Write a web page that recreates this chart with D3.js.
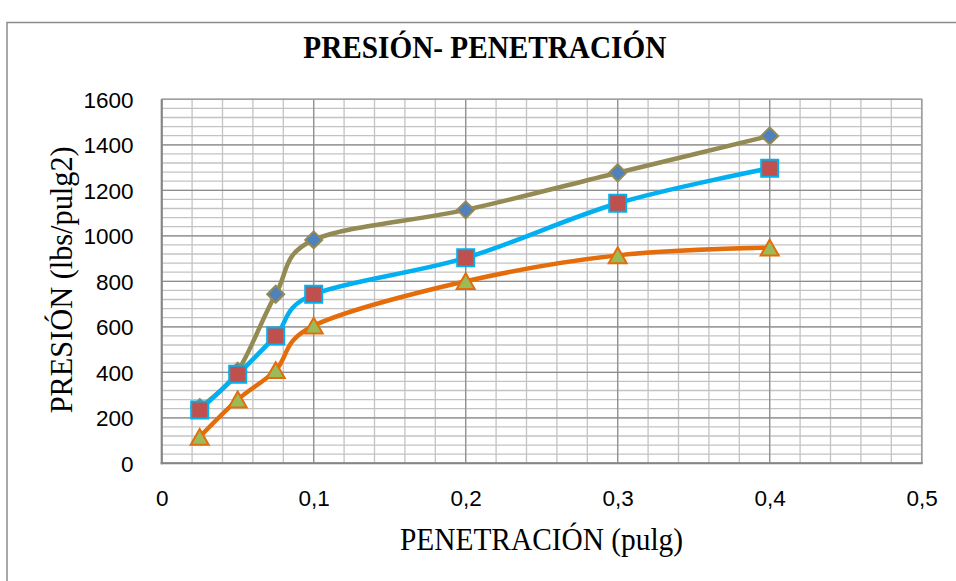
<!DOCTYPE html>
<html>
<head>
<meta charset="utf-8">
<script src="https://cdn.jsdelivr.net/npm/d3@7"></script>
<style>
  html, body { margin: 0; padding: 0; background: #fff; }
  svg { display: block; }
</style>
</head>
<body>
<svg id="chart" width="956" height="581"></svg>
<script>
// ---- data ----
const penetracion = [0.025, 0.05, 0.075, 0.1, 0.2, 0.3, 0.4];
const serie1 = [245, 405, 743, 982, 1114, 1277, 1439];
const serie2 = [234, 391, 560, 743, 903, 1143, 1297];
const serie3 = [116, 280, 409, 605, 800, 914, 948];
const xTicks = [0, 0.1, 0.2, 0.3, 0.4, 0.5];
const yTicks = [0, 200, 400, 600, 800, 1000, 1200, 1400, 1600];
const title = "PRESIÓN- PENETRACIÓN";
const xTitle = "PENETRACIÓN (pulg)";
const yTitle = "PRESIÓN (lbs/pulg2)";

const series = [
  { values: serie1, line: "#948A54", fill: "#4F81BD", stroke: "#948A54", marker: "diamond" },
  { values: serie2, line: "#00B0F0", fill: "#C0504D", stroke: "#00B0F0", marker: "square" },
  { values: serie3, line: "#E46C0A", fill: "#9BBB59", stroke: "#E46C0A", marker: "triangle" }
];

const svg = d3.select("#chart");

// outer frame
svg.append("rect").attr("x", 7).attr("y", 22.5).attr("width", 1200).attr("height", 1200)
  .attr("fill", "#fff").attr("stroke", "#8c8c8c").attr("stroke-width", 1.5);

const L = 161.7, R = 921.7, T = 99.3, B = 463.3;
const x = d3.scaleLinear().domain([0, 0.5]).range([L, R]);
const y = d3.scaleLinear().domain([0, 1600]).range([B, T]);

const grid = svg.append("g");
// minor grid
const xMinor = d3.range(0, 0.5001, 0.02);
const yMinor = d3.range(0, 1600.1, 40);
grid.selectAll(".xm").data(xMinor).join("line")
  .attr("x1", d => x(d)).attr("x2", d => x(d)).attr("y1", T).attr("y2", B)
  .attr("stroke", "#c3c3c3").attr("stroke-width", 1.3);
grid.selectAll(".ym").data(yMinor).join("line")
  .attr("x1", L).attr("x2", R).attr("y1", d => y(d)).attr("y2", d => y(d))
  .attr("stroke", "#c3c3c3").attr("stroke-width", 1.3);
// major grid
grid.selectAll(".xM").data(xTicks).join("line")
  .attr("x1", d => x(d)).attr("x2", d => x(d)).attr("y1", T).attr("y2", B)
  .attr("stroke", "#8c8c8c").attr("stroke-width", 1.2);
grid.selectAll(".yM").data(yTicks).join("line")
  .attr("x1", L).attr("x2", R).attr("y1", d => y(d)).attr("y2", d => y(d))
  .attr("stroke", "#8c8c8c").attr("stroke-width", 1.2);
// plot border
svg.append("rect").attr("x", L).attr("y", T).attr("width", R - L).attr("height", B - T)
  .attr("fill", "none").attr("stroke", "#a0a0a0").attr("stroke-width", 1.5);
// axis lines
svg.append("line").attr("x1", L).attr("x2", L).attr("y1", T).attr("y2", B + 1)
  .attr("stroke", "#868686").attr("stroke-width", 2);
svg.append("line").attr("x1", L - 1).attr("x2", R + 1).attr("y1", B).attr("y2", B)
  .attr("stroke", "#868686").attr("stroke-width", 2);

// axes labels
const loc = d3.formatLocale({ decimal: ",", thousands: ".", grouping: [3], currency: ["", ""] });
const fmtX = loc.format("~g");

const gx = svg.append("g").attr("transform", `translate(0,${B})`)
  .call(d3.axisBottom(x).tickValues(xTicks).tickSize(0).tickFormat(fmtX));
gx.select(".domain").remove();
gx.selectAll("text").attr("y", 43.2).attr("dy", 0)
  .attr("font-family", "'Liberation Sans', Arial, sans-serif").attr("font-size", 22.5).attr("fill", "#000");

const gy = svg.append("g").attr("transform", `translate(${L},0)`)
  .call(d3.axisLeft(y).tickValues(yTicks).tickSize(0).tickPadding(28.2).tickFormat(d => String(d)));
gy.select(".domain").remove();
gy.selectAll("text").attr("dy", "0.355em")
  .attr("font-family", "'Liberation Sans', Arial, sans-serif").attr("font-size", 22.5).attr("fill", "#000");

// series
const lineGen = d3.line().x(d => x(d[0])).y(d => y(d[1])).curve(d3.curveCardinal.tension(0));

function markerPath(type) {
  if (type === "diamond") return "M0,-8.5L8.5,0L0,8.5L-8.5,0Z";
  if (type === "square") return "M-8.5,-8.5H8.5V8.5H-8.5Z";
  return "M0,-8L9,7.8L-9,7.8Z";
}

series.forEach(s => {
  const pts = penetracion.map((p, i) => [p, s.values[i]]);
  const g = svg.append("g");
  g.append("path").datum(pts).attr("d", lineGen)
    .attr("fill", "none").attr("stroke", s.line).attr("stroke-width", 4.5)
    .attr("stroke-linejoin", "round").attr("stroke-linecap", "round");
  g.selectAll("path.m").data(pts).join("path").attr("class", "m")
    .attr("transform", d => `translate(${x(d[0])},${y(d[1])})`)
    .attr("d", markerPath(s.marker))
    .attr("fill", s.fill).attr("stroke", s.stroke).attr("stroke-width", 2)
    .attr("stroke-linejoin", "miter");
});

// titles
svg.append("text").attr("x", 303.3).attr("y", 58.3)
  .attr("font-family", "'Liberation Serif', 'Times New Roman', serif")
  .attr("font-weight", "bold").attr("font-size", 32)
  .attr("textLength", 363).attr("lengthAdjust", "spacingAndGlyphs")
  .text(title);

svg.append("text").attr("x", 400).attr("y", 550)
  .attr("font-family", "'Liberation Serif', 'Times New Roman', serif")
  .attr("font-size", 32)
  .attr("textLength", 283).attr("lengthAdjust", "spacingAndGlyphs")
  .text(xTitle);

svg.append("text").attr("transform", "translate(72,413.3) rotate(-90)")
  .attr("x", 0).attr("y", 0)
  .attr("font-family", "'Liberation Serif', 'Times New Roman', serif")
  .attr("font-size", 32)
  .attr("textLength", 267).attr("lengthAdjust", "spacingAndGlyphs")
  .text(yTitle);
</script>
</body>
</html>
